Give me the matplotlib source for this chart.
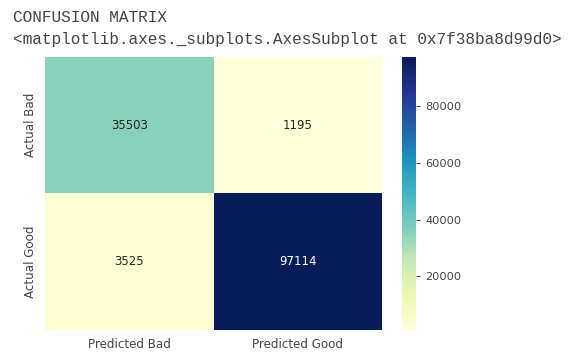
import matplotlib
matplotlib.use("Agg")
import matplotlib.pyplot as plt
import seaborn as sns
import numpy as np

row_labels = ["Actual Bad", "Actual Good"]
col_labels = ["Predicted Bad", "Predicted Good"]
row_bad = [35503, 1195]
row_good = [3525, 97114]
cbar_ticks = [20000, 40000, 60000, 80000]

data = np.array([row_bad, row_good])

fig = plt.figure(figsize=(5.72, 3.54), dpi=100)
ax = fig.add_axes([0.079, 0.068, 0.589, 0.771])
cax = fig.add_axes([0.703, 0.068, 0.0245, 0.771])

sns.heatmap(data, annot=True, fmt="d", cmap="YlGnBu", ax=ax, cbar_ax=cax,
            xticklabels=col_labels, yticklabels=row_labels,
            annot_kws={"fontsize": 8.5})
ax.tick_params(axis="both", length=0, labelsize=8.6, colors="#444444")
ax.tick_params(axis="x", pad=6)
ax.tick_params(axis="y", pad=6)
for t in ax.get_yticklabels():
    t.set_rotation(90)
    t.set_va("center")
cax.set_yticks(cbar_ticks)
cax.tick_params(labelsize=8.2, colors="#444444", length=3)
for s in cax.spines.values():
    s.set_visible(False)

fig.text(0.023, 0.938, "CONFUSION MATRIX", family="Liberation Mono",
         fontsize=11.6, color="#444444", va="baseline")
fig.text(0.023, 0.876, "<matplotlib.axes._subplots.AxesSubplot at 0x7f38ba8d99d0>",
         family="Liberation Mono", fontsize=11.6, color="#444444", va="baseline")

fig.savefig("out.png", dpi=100)
